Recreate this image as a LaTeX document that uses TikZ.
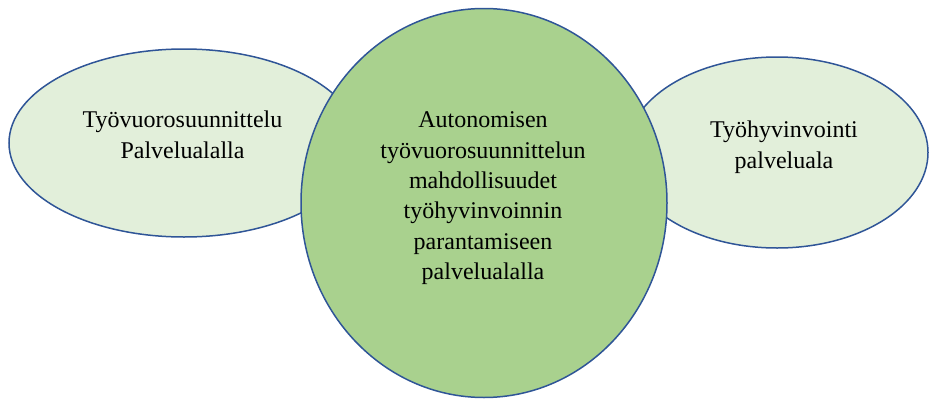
\documentclass[tikz,border=0pt]{standalone}
\usepackage{fontspec}
\setmainfont{Liberation Serif}
\usepackage{xcolor}
\definecolor{reuna}{HTML}{2F5597}
\definecolor{vaalea}{HTML}{E2EFDA}
\definecolor{vihrea}{HTML}{A9D18E}
\usetikzlibrary{positioning}

\begin{document}
\begin{tikzpicture}[x=1pt,y=-1pt,
  pallo/.style={draw=reuna,line width=1.5pt},
  teksti/.style={align=center,inner sep=0pt,font=\fontsize{24}{30.4}\selectfont}]
\useasboundingbox(0,0)rectangle(929,399);
\filldraw[pallo,fill=vaalea](184,143)ellipse[x radius=175,y radius=94];
\filldraw[pallo,fill=vaalea](777,152.5)ellipse[x radius=151,y radius=95.5];
\filldraw[pallo,fill=vihrea](484,203)ellipse[x radius=183,y radius=194.5];
\node[teksti](vuoro)at(182.5,134.8){Työvuorosuunnittelu\\Palvelualalla};
\node[teksti](hyvin)at(784,147.4){Työhyvinvointi\\palveluala};
\node[teksti](keski)at(483,198.4){Autonomisen\\työvuorosuunnittelun\\mahdollisuudet\\työhyvinvoinnin\\parantamiseen\\palvelualalla};
\end{tikzpicture}
\end{document}
